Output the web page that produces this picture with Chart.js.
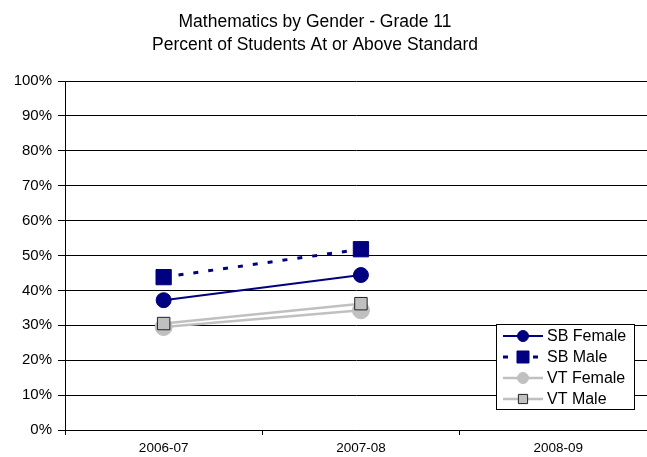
<!DOCTYPE html>
<html lang="en">
<head>
  <meta charset="UTF-8">
  <title>Mathematics by Gender - Grade 11</title>
  <script src="https://cdn.jsdelivr.net/npm/chart.js"></script>
  <style>
    html, body { margin: 0; padding: 0; background: #fff; overflow: hidden; }
  </style>
</head>
<body>
<canvas id="mathChart" width="647" height="457"></canvas>
<script>
  const years = ["2006-07", "2007-08", "2008-09"];
  const sbFemale = [37.2, 44.4, null];
  const sbMale = [43.8, 51.8, null];
  const vtFemale = [29.5, 34.3, null];
  const vtMale = [30.5, 36.2, null];
  const titleLines = ["Mathematics by Gender - Grade 11", "Percent of Students At or Above Standard"];

  // the original plot is cut off at the right edge, so the x range stops short of 2.5
  const xMin = -0.5;
  const xMax = 2.45;

  const navy = "#000080";
  const grey = "#c0c0c0";
  const font = '"Liberation Sans", Arial, sans-serif';

  const toPoints = arr => arr.map((v, i) => ({ x: i, y: v }));

  // title + legend box drawn by hand (legend sits inside the plot, Excel style)
  const overlay = {
    id: "overlay",
    afterDraw(chart) {
      const ctx = chart.ctx;
      ctx.save();
      ctx.fillStyle = "#000";
      ctx.font = "17.5px " + font;
      ctx.textAlign = "center";
      ctx.textBaseline = "alphabetic";
      titleLines.forEach((t, i) => ctx.fillText(t, 315, 27 + i * 23));

      // legend
      ctx.fillStyle = "#fff";
      ctx.fillRect(496, 324, 139, 86);
      ctx.strokeStyle = "#000";
      ctx.lineWidth = 1;
      ctx.strokeRect(496.5, 324.5, 138, 85);

      const legendMarks = [
        { r: 5.5 }, { r: 8.5 }, { r: 5.5 }, { r: 6.5 }
      ];
      chart.data.datasets.forEach((ds, i) => {
        const y = 336 + i * 21;
        ctx.save();
        ctx.strokeStyle = ds.borderColor;
        ctx.lineWidth = ds.borderWidth;
        ctx.setLineDash(ds.borderDash || []);
        ctx.beginPath();
        ctx.moveTo(503, y);
        ctx.lineTo(543, y);
        ctx.stroke();
        ctx.setLineDash([]);
        ctx.fillStyle = ds.pointBackgroundColor;
        ctx.strokeStyle = ds.pointBorderColor;
        ctx.lineWidth = ds.pointBorderWidth;
        Chart.helpers.drawPoint(ctx, {
          pointStyle: ds.pointStyle,
          radius: legendMarks[i].r,
          rotation: 0,
          borderWidth: ds.pointBorderWidth
        }, 523, y);
        ctx.restore();
        ctx.fillStyle = "#000";
        ctx.font = "16px " + font;
        ctx.textAlign = "left";
        ctx.textBaseline = "middle";
        ctx.fillText(ds.label, 547, y + 1);
      });
      ctx.restore();
    }
  };

  new Chart("mathChart", {
    type: "line",
    data: {
      datasets: [
        {
          label: "SB Female", data: toPoints(sbFemale), order: 0,
          borderColor: navy, borderWidth: 2,
          pointStyle: "circle", pointRadius: 7.5,
          pointBackgroundColor: navy, pointBorderColor: navy, pointBorderWidth: 1
        },
        {
          label: "SB Male", data: toPoints(sbMale), order: 1,
          borderColor: navy, borderWidth: 3, borderDash: [5, 10],
          pointStyle: "rect", pointRadius: 10.8,
          pointBackgroundColor: navy, pointBorderColor: navy, pointBorderWidth: 1
        },
        {
          label: "VT Female", data: toPoints(vtFemale), order: 3,
          borderColor: grey, borderWidth: 2.5,
          pointStyle: "circle", pointRadius: 8.5,
          pointBackgroundColor: grey, pointBorderColor: grey, pointBorderWidth: 1
        },
        {
          label: "VT Male", data: toPoints(vtMale), order: 2,
          borderColor: grey, borderWidth: 2.5,
          pointStyle: "rect", pointRadius: 8.8,
          pointBackgroundColor: grey, pointBorderColor: "#222", pointBorderWidth: 1
        }
      ]
    },
    options: {
      responsive: false,
      animation: false,
      layout: { autoPadding: false, padding: { top: 81, right: 0, left: 0, bottom: 0 } },
      plugins: {
        title: { display: false },
        legend: { display: false },
        tooltip: { enabled: false }
      },
      scales: {
        x: {
          type: "linear",
          min: xMin, max: xMax,
          grid: { offset: true, drawOnChartArea: false, drawTicks: true, tickLength: 5, color: "#000" },
          border: { color: "#000", width: 1 },
          afterBuildTicks(scale) { scale.ticks = years.map((y, i) => ({ value: i })); },
          ticks: {
            color: "#000", font: { family: font, size: 13.5 }, padding: 5,
            maxRotation: 0, autoSkip: false,
            callback: (v, i) => years[i]
          },
          afterFit(scale) { scale.height = 27; }
        },
        y: {
          min: 0, max: 100,
          grid: { color: "#000", tickLength: 7 },
          border: { color: "#000", width: 1 },
          ticks: {
            stepSize: 10, color: "#000", padding: 6,
            font: { family: font, size: 15 },
            callback: v => v + "%"
          },
          afterFit(scale) { scale.width = 65; }
        }
      }
    },
    plugins: [overlay]
  });
</script>
</body>
</html>
